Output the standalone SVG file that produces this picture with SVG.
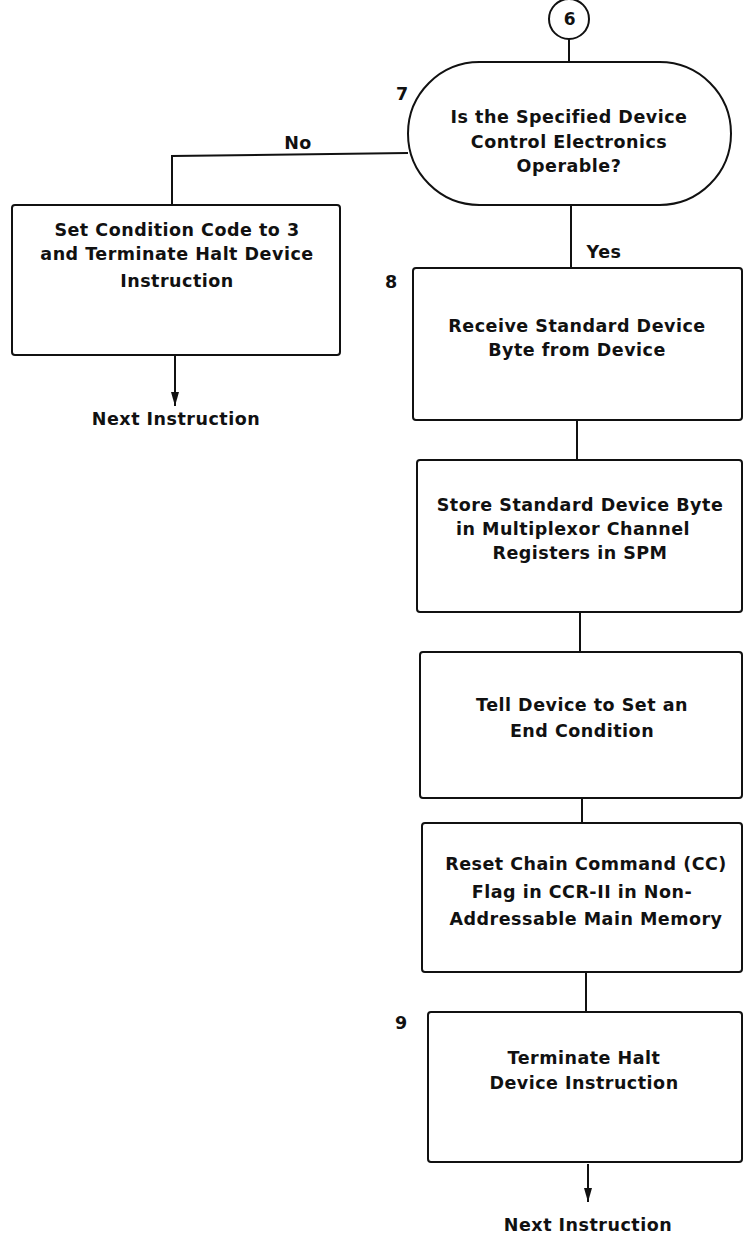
<svg xmlns="http://www.w3.org/2000/svg" width="744" height="1240" viewBox="0 0 744 1240">
<style>
.n{fill:#fff;stroke:#111;stroke-width:2}
.c{fill:none;stroke:#111;stroke-width:2}
text{font-family:"DejaVu Sans","Liberation Sans",Arial,sans-serif;font-weight:bold;font-size:17.5px;fill:#111;letter-spacing:0.5px}
.m{text-anchor:middle}
</style>
<defs>
<marker id="ah" viewBox="0 0 14 8" refX="14" refY="4" markerWidth="14" markerHeight="8" markerUnits="userSpaceOnUse" orient="auto">
<path d="M0,0 L14,4 L0,8 Z" fill="#111"/>
</marker>
</defs>
<g id="connectors">
<line class="c" x1="569" y1="39" x2="569" y2="62"/>
<polyline class="c" points="408,153 172,156 172,205"/>
<line class="c" x1="175" y1="355" x2="175" y2="406" marker-end="url(#ah)"/>
<line class="c" x1="571" y1="205" x2="571" y2="268"/>
<line class="c" x1="577" y1="420" x2="577" y2="460"/>
<line class="c" x1="580" y1="612" x2="580" y2="652"/>
<line class="c" x1="582" y1="798" x2="582" y2="823"/>
<line class="c" x1="586" y1="972" x2="586" y2="1012"/>
<line class="c" x1="588" y1="1164" x2="588" y2="1202" marker-end="url(#ah)"/>
<text class="m" x="298" y="149">No</text>
<text class="m" x="604" y="258">Yes</text>
<text class="m" x="176" y="425">Next Instruction</text>
<text class="m" x="588" y="1231">Next Instruction</text>
</g>
<g id="conn6">
<circle class="n" cx="569" cy="19" r="20"/>
<text class="m" x="570" y="25" style="font-size:17px">6</text>
</g>
<g id="step7">
<text x="396" y="100">7</text>
<rect class="n" x="408" y="62" width="323" height="143" rx="71.5"/>
<text class="m" x="569" y="123">Is the Specified Device</text>
<text class="m" x="569" y="148">Control Electronics</text>
<text class="m" x="569" y="172">Operable?</text>
</g>
<g id="setcc">
<rect class="n" x="12" y="205" width="328" height="150" rx="3"/>
<text class="m" x="177" y="236">Set Condition Code to 3</text>
<text class="m" x="177" y="260">and Terminate Halt Device</text>
<text class="m" x="177" y="287">Instruction</text>
</g>
<g id="step8">
<text x="385" y="288">8</text>
<rect class="n" x="413" y="268" width="329" height="152" rx="3"/>
<text class="m" x="577" y="332">Receive Standard Device</text>
<text class="m" x="577" y="356">Byte from Device</text>
</g>
<g id="store">
<rect class="n" x="417" y="460" width="325" height="152" rx="3"/>
<text class="m" x="580" y="511">Store Standard Device Byte</text>
<text class="m" x="573" y="535">in Multiplexor Channel</text>
<text class="m" x="580" y="559">Registers in SPM</text>
</g>
<g id="tell">
<rect class="n" x="420" y="652" width="322" height="146" rx="3"/>
<text class="m" x="582" y="711">Tell Device to Set an</text>
<text class="m" x="582" y="737">End Condition</text>
</g>
<g id="reset">
<rect class="n" x="422" y="823" width="320" height="149" rx="3"/>
<text class="m" x="586" y="870">Reset Chain Command (CC)</text>
<text class="m" x="582" y="898">Flag in CCR-II in Non-</text>
<text class="m" x="586" y="925">Addressable Main Memory</text>
</g>
<g id="step9">
<text x="395" y="1029">9</text>
<rect class="n" x="428" y="1012" width="314" height="150" rx="3"/>
<text class="m" x="584" y="1064">Terminate Halt</text>
<text class="m" x="584" y="1089">Device Instruction</text>
</g>
</svg>
